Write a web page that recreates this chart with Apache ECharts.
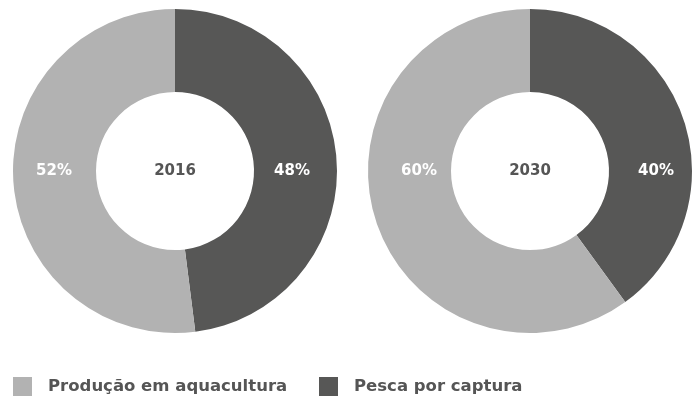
<!DOCTYPE html>
<html lang="pt">
<head>
<meta charset="UTF-8">
<title>Aquacultura vs pesca</title>
<script src="https://cdn.jsdelivr.net/npm/echarts@6/dist/echarts.min.js"></script>
<style>
  html, body { margin: 0; padding: 0; background: #fff; }
  #chart { width: 693px; height: 400px; }
</style>
</head>
<body>
<div id="chart"></div>
<script>
// dados
var categories = ['Pesca por captura', 'Produção em aquacultura'];
var years = ['2016', '2030'];
var values2016 = [48, 52];
var values2030 = [40, 60];

var colors = ['#575756', '#b2b2b2'];
var font = 'DejaVu Sans';
var centers = [[175, 171], [530, 171]];
// deslocamento horizontal dos rótulos em relação ao centro
var labelDx = [[117, -121], [126, -111]];

var chart = echarts.init(document.getElementById('chart'));

function makePie(idx, values) {
    return {
        type: 'pie',
        center: centers[idx],
        radius: [79, 162],
        startAngle: 90,
        clockwise: true,
        silent: true,
        color: colors,
        itemStyle: { borderWidth: 0 },
        label: {
            show: true,
            position: 'inside',
            formatter: '{c}%',
            color: '#fff',
            fontFamily: font,
            fontWeight: 'bold',
            fontSize: 15
        },
        labelLine: { show: false },
        labelLayout: function (p) {
            return {
                x: centers[idx][0] + labelDx[idx][p.dataIndex],
                y: centers[idx][1],
                align: 'center',
                verticalAlign: 'middle'
            };
        },
        data: categories.map(function (c, i) {
            return { name: c, value: values[i] };
        })
    };
}

chart.setOption({
    animation: false,
    title: years.map(function (y, i) {
        return {
            text: y,
            left: centers[i][0],
            top: centers[i][1],
            textAlign: 'center',
            textVerticalAlign: 'middle',
            padding: 0,
            textStyle: { color: '#555', fontFamily: font, fontWeight: 'bold', fontSize: 15 }
        };
    }),
    legend: [
        { data: [categories[1]], left: 13, top: 377 },
        { data: [categories[0]], left: 319, top: 377 }
    ].map(function (l) {
        l.icon = 'rect';
        l.itemWidth = 19;
        l.itemHeight = 19;
        l.padding = 0;
        l.selectedMode = false;
        l.textStyle = { color: '#555', fontFamily: font, fontWeight: 'bold', fontSize: 16.5, padding: [0, 0, 0, 11] };
        return l;
    }),
    series: [makePie(0, values2016), makePie(1, values2030)]
});
</script>
</body>
</html>
